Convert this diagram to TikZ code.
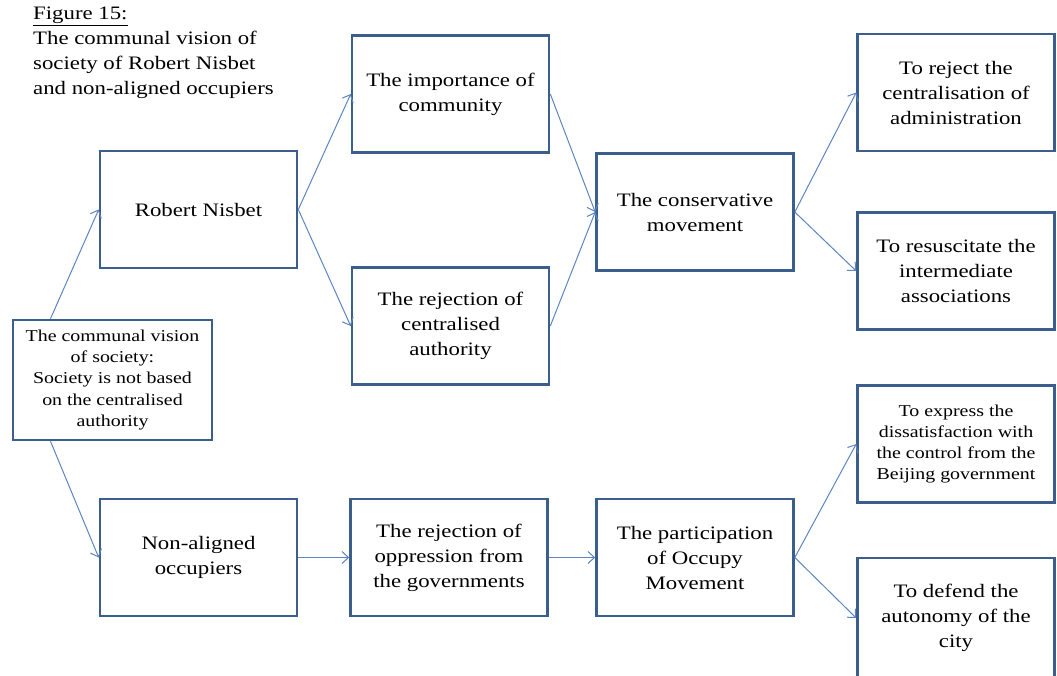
\documentclass[tikz,border=0pt]{standalone}
\usepackage{fontspec}
\setmainfont{Liberation Serif}[FakeStretch=1.2]
\usepackage{tikz}
\usetikzlibrary{arrows.meta}
\usetikzlibrary{positioning}

\definecolor{boxblue}{RGB}{60,94,140}
\definecolor{arrowblue}{RGB}{92,134,192}

\begin{document}
\begin{tikzpicture}[x=1pt, y=-1pt,
  box/.style={draw=boxblue, line width=2.6pt, fill=white, minimum width=197pt,
    minimum height=117pt, align=center, inner sep=2pt,
    font=\fontsize{19}{25}\selectfont},
  smallbox/.style={box, font=\fontsize{16.6}{21.3}\selectfont},
  link/.style={draw=arrowblue, line width=1pt,
    -{Straight Barb[length=6.5pt, width=12pt, line width=1pt]}}]

  \useasboundingbox (0,0) rectangle (1057,675);

  % title
  \node[anchor=north west, align=left, inner sep=0pt,
    font=\fontsize{19}{25}\selectfont] (title) at (33,7)
    {\underline{Figure 15:}\\The communal vision of\\society of Robert Nisbet\\and non-aligned occupiers};

  % first column
  \node[smallbox, minimum width=199pt, minimum height=120pt] (vision) at (112.5,380)
    {The communal vision\\of society:\\Society is not based\\on the centralised\\authority};

  % second column
  \node[box] (nisbet) at (198.5,209.5) {Robert Nisbet};
  \node[box] (occupiers) at (198.5,557.5) {Non-aligned\\occupiers};

  % third column
  \node[box] (community) at (450.5,94) {The importance of\\community};
  \node[box] (authority) at (450.5,326) {The rejection of\\centralised\\authority};
  \node[box] (oppression) at (449,557.5) {The rejection of\\oppression from\\the governments};

  % fourth column
  \node[box] (conservative) at (695,212) {The conservative\\movement};
  \node[box] (occupy) at (695,557.5) {The participation\\of Occupy\\Movement};

  % last column
  \node[box] (administration) at (956,92.5) {To reject the\\centralisation of\\administration};
  \node[box] (associations) at (956,271) {To resuscitate the\\intermediate\\associations};
  \node[smallbox] (beijing) at (956,444) {To express the\\dissatisfaction with\\the control from the\\Beijing government};
  \node[box, minimum height=120pt] (city) at (956,618) {To defend the\\autonomy of the\\city};

  % connectors
  \draw[link] ([xshift=-62pt]vision.north) -- (nisbet.west);
  \draw[link] ([xshift=-62pt]vision.south) -- (occupiers.west);
  \draw[link] (nisbet.east) -- (community.west);
  \draw[link] (nisbet.east) -- (authority.west);
  \draw[link] (community.east) -- (conservative.west);
  \draw[link] (authority.east) -- (conservative.west);
  \draw[link] (conservative.east) -- (administration.west);
  \draw[link] (conservative.east) -- (associations.west);
  \draw[link] (occupiers.east) -- (oppression.west);
  \draw[link] (oppression.east) -- (occupy.west);
  \draw[link] (occupy.east) -- (beijing.west);
  \draw[link] (occupy.east) -- (city.west);
\end{tikzpicture}
\end{document}
